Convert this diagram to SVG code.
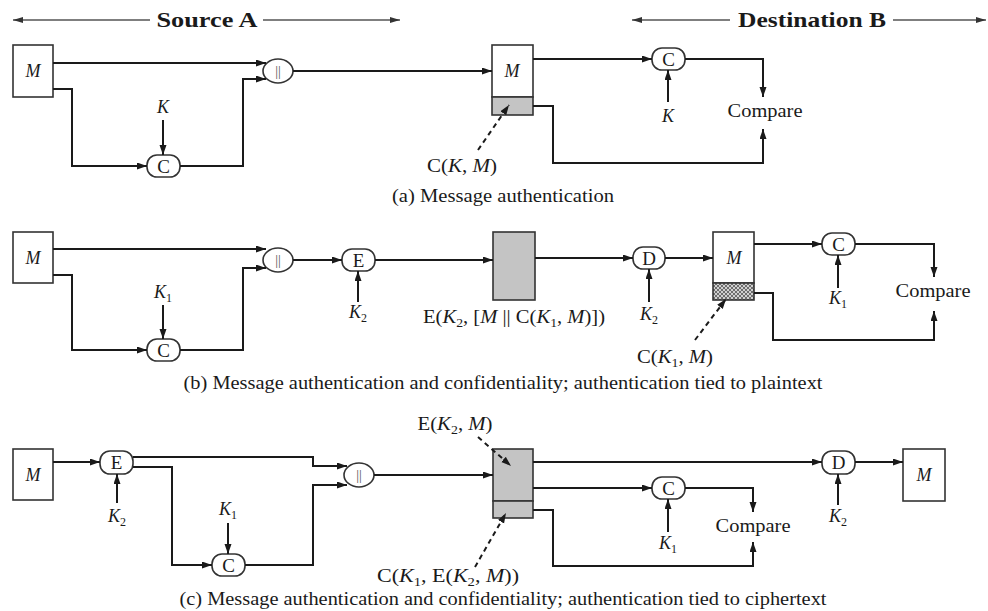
<svg xmlns="http://www.w3.org/2000/svg" width="988" height="611" viewBox="0 0 988 611">
<defs>
<marker id="ah" markerUnits="userSpaceOnUse" markerWidth="11" markerHeight="8" refX="10" refY="3.5" orient="auto"><path d="M0,0 L10,3.5 L0,7 z" fill="#1a1a1a"/></marker>
<marker id="ahs" markerUnits="userSpaceOnUse" markerWidth="11" markerHeight="8" refX="10" refY="3" orient="auto"><path d="M0,0 L10,3 L0,6 z" fill="#333"/></marker>
<pattern id="hatch" patternUnits="userSpaceOnUse" width="4" height="4"><rect width="4" height="4" fill="#d0d0d0"/><path d="M0,0 L4,4 M4,0 L0,4" stroke="#555" stroke-width="0.8"/></pattern>
</defs>
<style>
text{font-family:"Liberation Serif","Times New Roman",Tinos,serif;fill:#1a1a1a}
.lb{font-size:18px;text-anchor:middle}
.cap{font-size:18px;text-anchor:middle}
.hd{font-size:21px;font-weight:bold;text-anchor:middle}
.nd{font-size:19px;text-anchor:middle}
.i{font-style:italic}
.sub{font-size:12px}
.ln{fill:none;stroke:#1a1a1a;stroke-width:2}
.hl{fill:none;stroke:#555;stroke-width:1.3}
.ds{fill:none;stroke:#1a1a1a;stroke-width:2;stroke-dasharray:5,4}
.bx{fill:#fff;stroke:#333;stroke-width:1.6}
.gr{fill:#c4c4c4;stroke:#333;stroke-width:1.6}
.node{fill:#fff;stroke:#333;stroke-width:1.6}
.bar{font-size:14px;text-anchor:middle;fill:#555}
</style>
<rect width="988" height="611" fill="#fff"/>

<g id="header">
<text class="hd" x="207" y="27" textLength="101" lengthAdjust="spacingAndGlyphs">Source A</text>
<text class="hd" x="812" y="27" textLength="148" lengthAdjust="spacingAndGlyphs">Destination B</text>
</g>

<!-- ===== Row (a) ===== -->
<g id="a-M">
<rect class="bx" x="13" y="45" width="40" height="52"/>
<text class="lb i" x="33" y="77">M</text>
</g>
<g id="a-K"><text class="lb i" x="163" y="113">K</text></g>
<g id="a-C">
<rect class="node" x="147" y="155" width="33" height="22" rx="10"/>
<text class="nd" x="163.5" y="172.5">C</text>
</g>
<g id="a-concat">
<ellipse class="node" cx="278" cy="71" rx="15" ry="12"/>
<text class="bar" x="278" y="76">||</text>
</g>
<g id="a-msg">
<rect class="bx" x="492" y="45" width="41" height="52"/>
<rect class="gr" x="492" y="97" width="41" height="18"/>
<text class="lb i" x="512" y="77">M</text>
</g>
<g id="a-CKM"><text class="lb" x="462" y="172" textLength="70" lengthAdjust="spacingAndGlyphs">C(<tspan class="i">K</tspan>, <tspan class="i">M</tspan>)</text></g>
<g id="a-C2">
<rect class="node" x="652" y="48" width="33" height="22" rx="10"/>
<text class="nd" x="668.5" y="65.5">C</text>
</g>
<g id="a-K2"><text class="lb i" x="668" y="122">K</text></g>
<g id="a-compare"><text class="lb" x="765" y="117" textLength="75" lengthAdjust="spacingAndGlyphs">Compare</text></g>
<g id="a-caption"><text class="cap" x="503" y="202" textLength="222" lengthAdjust="spacingAndGlyphs">(a) Message authentication</text></g>

<!-- ===== Row (b) ===== -->
<g id="b-M">
<rect class="bx" x="13" y="232" width="40" height="51"/>
<text class="lb i" x="33" y="264">M</text>
</g>
<g id="b-K1"><text class="lb" x="163" y="298"><tspan class="i">K</tspan><tspan class="sub" dy="4">1</tspan></text></g>
<g id="b-C">
<rect class="node" x="147" y="339" width="33" height="22" rx="10"/>
<text class="nd" x="163.5" y="356.5">C</text>
</g>
<g id="b-concat">
<ellipse class="node" cx="278" cy="260" rx="15" ry="12"/>
<text class="bar" x="278" y="265">||</text>
</g>
<g id="b-E">
<rect class="node" x="342" y="249" width="33" height="22" rx="10"/>
<text class="nd" x="358.5" y="266.5">E</text>
</g>
<g id="b-K2"><text class="lb" x="358" y="318"><tspan class="i">K</tspan><tspan class="sub" dy="4">2</tspan></text></g>
<g id="b-cipher">
<rect class="gr" x="493" y="232" width="42" height="68"/>
</g>
<g id="b-cipher-label"><text class="lb" x="514" y="323" textLength="182" lengthAdjust="spacingAndGlyphs">E(<tspan class="i">K</tspan><tspan class="sub" dy="4">2</tspan><tspan dy="-4">, [</tspan><tspan class="i">M</tspan> || C(<tspan class="i">K</tspan><tspan class="sub" dy="4">1</tspan><tspan dy="-4">, </tspan><tspan class="i">M</tspan>)])</text></g>
<g id="b-D">
<rect class="node" x="633" y="247" width="32" height="22" rx="10"/>
<text class="nd" x="649" y="264.5">D</text>
</g>
<g id="b-K2b"><text class="lb" x="649" y="320"><tspan class="i">K</tspan><tspan class="sub" dy="4">2</tspan></text></g>
<g id="b-msg">
<rect class="bx" x="713" y="232" width="41" height="51"/>
<rect x="713" y="283" width="41" height="17" fill="url(#hatch)" stroke="#333" stroke-width="1.6"/>
<text class="lb i" x="734" y="264">M</text>
</g>
<g id="b-CK1M"><text class="lb" x="675" y="363" textLength="76" lengthAdjust="spacingAndGlyphs">C(<tspan class="i">K</tspan><tspan class="sub" dy="4">1</tspan><tspan dy="-4">, </tspan><tspan class="i">M</tspan>)</text></g>
<g id="b-C2">
<rect class="node" x="822" y="233" width="33" height="22" rx="10"/>
<text class="nd" x="838.5" y="250.5">C</text>
</g>
<g id="b-K1b"><text class="lb" x="838" y="304"><tspan class="i">K</tspan><tspan class="sub" dy="4">1</tspan></text></g>
<g id="b-compare"><text class="lb" x="933" y="297" textLength="75" lengthAdjust="spacingAndGlyphs">Compare</text></g>
<g id="b-caption"><text class="cap" x="503" y="389" textLength="639" lengthAdjust="spacingAndGlyphs">(b) Message authentication and confidentiality; authentication tied to plaintext</text></g>

<!-- ===== Row (c) ===== -->
<g id="c-M">
<rect class="bx" x="13" y="449" width="40" height="51"/>
<text class="lb i" x="33" y="481">M</text>
</g>
<g id="c-E">
<rect class="node" x="100" y="451" width="33" height="23" rx="10"/>
<text class="nd" x="116.5" y="469">E</text>
</g>
<g id="c-K2"><text class="lb" x="117" y="522"><tspan class="i">K</tspan><tspan class="sub" dy="4">2</tspan></text></g>
<g id="c-K1"><text class="lb" x="228" y="515"><tspan class="i">K</tspan><tspan class="sub" dy="4">1</tspan></text></g>
<g id="c-C">
<rect class="node" x="212" y="554" width="33" height="22" rx="10"/>
<text class="nd" x="228.5" y="571.5">C</text>
</g>
<g id="c-concat">
<ellipse class="node" cx="359" cy="475" rx="15" ry="12"/>
<text class="bar" x="359" y="480">||</text>
</g>
<g id="c-cipher">
<rect class="gr" x="493" y="449" width="40" height="52"/>
<rect class="gr" x="493" y="501" width="40" height="17"/>
</g>
<g id="c-EK2M"><text class="lb" x="455" y="430" textLength="75" lengthAdjust="spacingAndGlyphs">E(<tspan class="i">K</tspan><tspan class="sub" dy="4">2</tspan><tspan dy="-4">, </tspan><tspan class="i">M</tspan>)</text></g>
<g id="c-CK1"><text class="lb" x="448" y="582" textLength="142" lengthAdjust="spacingAndGlyphs">C(<tspan class="i">K</tspan><tspan class="sub" dy="4">1</tspan><tspan dy="-4">, E(</tspan><tspan class="i">K</tspan><tspan class="sub" dy="4">2</tspan><tspan dy="-4">, </tspan><tspan class="i">M</tspan>))</text></g>
<g id="c-D">
<rect class="node" x="822" y="451" width="33" height="23" rx="10"/>
<text class="nd" x="838.5" y="469">D</text>
</g>
<g id="c-K2b"><text class="lb" x="838" y="522"><tspan class="i">K</tspan><tspan class="sub" dy="4">2</tspan></text></g>
<g id="c-Mout">
<rect class="bx" x="903" y="449" width="42" height="52"/>
<text class="lb i" x="924" y="481">M</text>
</g>
<g id="c-C2">
<rect class="node" x="652" y="477" width="33" height="22" rx="10"/>
<text class="nd" x="668.5" y="494.5">C</text>
</g>
<g id="c-K1b"><text class="lb" x="668" y="549"><tspan class="i">K</tspan><tspan class="sub" dy="4">1</tspan></text></g>
<g id="c-compare"><text class="lb" x="753" y="532" textLength="75" lengthAdjust="spacingAndGlyphs">Compare</text></g>
<g id="c-caption"><text class="cap" x="503" y="605" textLength="647" lengthAdjust="spacingAndGlyphs">(c) Message authentication and confidentiality; authentication tied to ciphertext</text></g>

<g id="connectors">
<!-- header arrows -->
<path class="hl" d="M150,20 H13" marker-end="url(#ahs)"/>
<path class="hl" d="M263,20 H400" marker-end="url(#ahs)"/>
<path class="hl" d="M730,20 H632" marker-end="url(#ahs)"/>
<path class="hl" d="M893,20 H986" marker-end="url(#ahs)"/>

<!-- row a -->
<path class="ln" d="M53,63 H266" marker-end="url(#ah)"/>
<path class="ln" d="M53,89 H72 V166 H147" marker-end="url(#ah)"/>
<path class="ln" d="M163,120 V155" marker-end="url(#ah)"/>
<path class="ln" d="M180,166 H243 V79 H266" marker-end="url(#ah)"/>
<path class="ln" d="M293,71 H492" marker-end="url(#ah)"/>
<path class="ds" d="M478,150 L509,105" marker-end="url(#ah)"/>
<path class="ln" d="M533,59 H652" marker-end="url(#ah)"/>
<path class="ln" d="M668,102 V70" marker-end="url(#ah)"/>
<path class="ln" d="M685,59 H763 V97" marker-end="url(#ah)"/>
<path class="ln" d="M533,106 H553 V163 H763 V129" marker-end="url(#ah)"/>

<!-- row b -->
<path class="ln" d="M53,249 H266" marker-end="url(#ah)"/>
<path class="ln" d="M53,275 H72 V350 H147" marker-end="url(#ah)"/>
<path class="ln" d="M163,305 V339" marker-end="url(#ah)"/>
<path class="ln" d="M180,350 H243 V268 H266" marker-end="url(#ah)"/>
<path class="ln" d="M293,260 H342" marker-end="url(#ah)"/>
<path class="ln" d="M358,302 V271" marker-end="url(#ah)"/>
<path class="ln" d="M375,260 H493" marker-end="url(#ah)"/>
<path class="ln" d="M535,258 H633" marker-end="url(#ah)"/>
<path class="ln" d="M649,302 V269" marker-end="url(#ah)"/>
<path class="ln" d="M665,258 H713" marker-end="url(#ah)"/>
<path class="ds" d="M695,340 L726,299" marker-end="url(#ah)"/>
<path class="ln" d="M754,244 H822" marker-end="url(#ah)"/>
<path class="ln" d="M838,288 V255" marker-end="url(#ah)"/>
<path class="ln" d="M855,244 H934 V277" marker-end="url(#ah)"/>
<path class="ln" d="M754,293 H773 V340 H934 V311" marker-end="url(#ah)"/>

<!-- row c -->
<path class="ln" d="M53,462 H100" marker-end="url(#ah)"/>
<path class="ln" d="M117,503 V474" marker-end="url(#ah)"/>
<path class="ln" d="M133,457 H313 V466 H347" marker-end="url(#ah)"/>
<path class="ln" d="M133,467 H172 V565 H212" marker-end="url(#ah)"/>
<path class="ln" d="M228,523 V554" marker-end="url(#ah)"/>
<path class="ln" d="M245,565 H313 V485 H347" marker-end="url(#ah)"/>
<path class="ln" d="M374,475 H493" marker-end="url(#ah)"/>
<path class="ds" d="M478,437 L511,466" marker-end="url(#ah)"/>
<path class="ds" d="M475,567 L506,513" marker-end="url(#ah)"/>
<path class="ln" d="M533,462 H822" marker-end="url(#ah)"/>
<path class="ln" d="M838,505 V474" marker-end="url(#ah)"/>
<path class="ln" d="M855,462 H903" marker-end="url(#ah)"/>
<path class="ln" d="M533,488 H652" marker-end="url(#ah)"/>
<path class="ln" d="M668,532 V499" marker-end="url(#ah)"/>
<path class="ln" d="M685,488 H753 V512" marker-end="url(#ah)"/>
<path class="ln" d="M533,510 H553 V566 H753 V542" marker-end="url(#ah)"/>
</g>
</svg>
